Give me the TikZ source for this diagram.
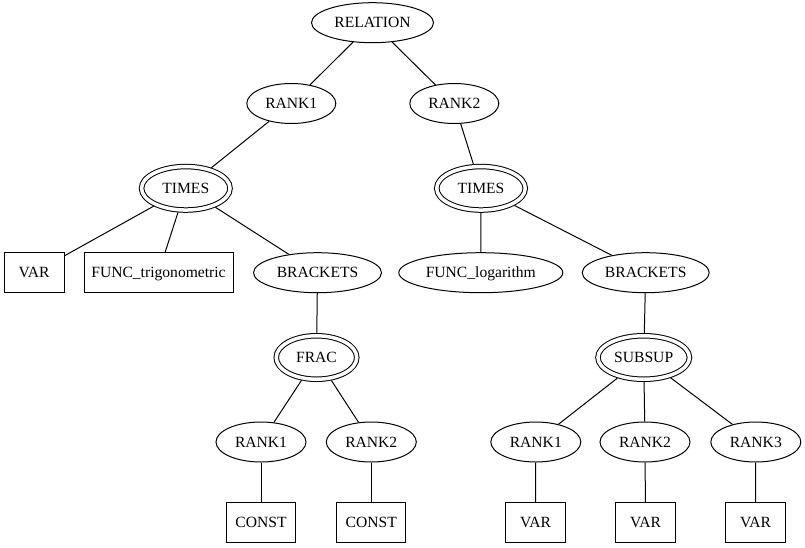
\documentclass[tikz,border=0pt]{standalone}
\usepackage{fontspec}
\setmainfont{Liberation Serif}
\newfontfamily\labelfont{Liberation Serif}
\usetikzlibrary{shapes.geometric}

\tikzset{
  treeline/.style={line width=1pt, black},
  ell/.style={ellipse, draw, treeline, inner sep=0pt, minimum height=40pt,
    text height=10.3pt, text depth=0pt},
  dbl/.style={ellipse, draw, treeline, double, double distance=3.5pt,
    inner sep=0pt, outer sep=2.75pt, minimum height=43.5pt,
    text height=10.3pt, text depth=0pt},
  leaf/.style={rectangle, draw, treeline, inner sep=0pt, minimum height=40pt,
    text height=10.3pt, text depth=0pt},
  edge/.style={treeline}
}

\begin{document}
\begin{tikzpicture}[x=1pt, y=-1pt, font=\labelfont\fontsize{15.6}{18}\selectfont]
  \useasboundingbox (0,0) rectangle (805,547);

  % root and first level
  \node[ell, minimum width=122pt] (rel) at (372.5,22.7) {RELATION};
  \node[ell, minimum width=89pt] (r1) at (291.3,103.5) {RANK1};
  \node[ell, minimum width=89pt] (r2) at (454.3,103.5) {RANK2};

  % left product
  \node[dbl, minimum width=88.5pt] (t1) at (185.8,188.3) {TIMES};
  \node[leaf, minimum width=60pt] (v0) at (34,272.7) {VAR};
  \node[leaf, minimum width=149pt] (ft) at (158.5,272.7) {FUNC\_trigonometric};
  \node[ell, minimum width=128pt] (b1) at (317.5,272.7) {BRACKETS};
  \node[dbl, minimum width=80.5pt] (fr) at (316.5,357.5) {FRAC};
  \node[ell, minimum width=90pt] (fr1) at (261,442) {RANK1};
  \node[ell, minimum width=90pt] (fr2) at (371.3,442) {RANK2};
  \node[leaf, minimum width=69pt] (c1) at (261,522.3) {CONST};
  \node[leaf, minimum width=69pt] (c2) at (371.3,522.3) {CONST};

  % right product
  \node[dbl, minimum width=88.5pt] (t2) at (481,188.3) {TIMES};
  \node[ell, minimum width=164pt] (fl) at (480.8,272.7) {FUNC\_logarithm};
  \node[ell, minimum width=127pt] (b2) at (645.7,272.7) {BRACKETS};
  \node[dbl, minimum width=91.5pt] (ss) at (643.7,357.5) {SUBSUP};
  \node[ell, minimum width=90pt] (s1) at (535.8,442) {RANK1};
  \node[ell, minimum width=90pt] (s2) at (645,442) {RANK2};
  \node[ell, minimum width=90pt] (s3) at (755.8,442) {RANK3};
  \node[leaf, minimum width=60pt] (w1) at (535.5,522.3) {VAR};
  \node[leaf, minimum width=60pt] (w2) at (645.5,522.3) {VAR};
  \node[leaf, minimum width=60pt] (w3) at (755.5,522.3) {VAR};

  % connectors
  \draw[edge] (rel) -- (r1);
  \draw[edge] (rel) -- (r2);
  \draw[edge] (r1) -- (t1);
  \draw[edge] (r2) -- (t2);
  \draw[edge] (t1) -- (v0);
  \draw[edge] (t1) -- (ft);
  \draw[edge] (t1) -- (b1);
  \draw[edge] (b1) -- (fr);
  \draw[edge] (fr) -- (fr1);
  \draw[edge] (fr) -- (fr2);
  \draw[edge] (fr1) -- (c1);
  \draw[edge] (fr2) -- (c2);
  \draw[edge] (t2) -- (fl);
  \draw[edge] (t2) -- (b2);
  \draw[edge] (b2) -- (ss);
  \draw[edge] (ss) -- (s1);
  \draw[edge] (ss) -- (s2);
  \draw[edge] (ss) -- (s3);
  \draw[edge] (s1) -- (w1);
  \draw[edge] (s2) -- (w2);
  \draw[edge] (s3) -- (w3);
\end{tikzpicture}
\end{document}
